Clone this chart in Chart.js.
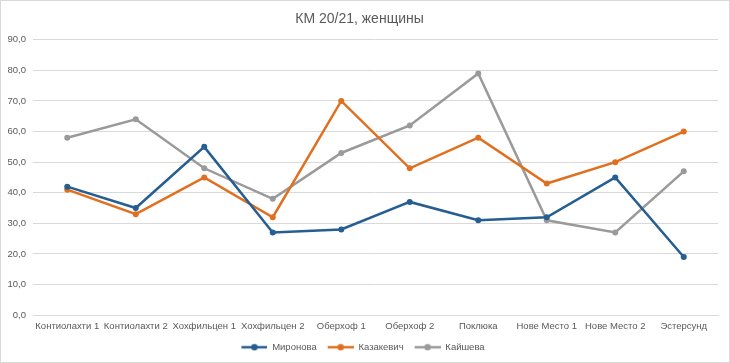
<!DOCTYPE html>
<html>
<head>
<meta charset="utf-8">
<script src="https://cdn.jsdelivr.net/npm/chart.js@4"></script>
<style>
  body { margin: 0; background: #fff; }
  #wrap { width: 730px; height: 363px; box-sizing: border-box; border: 1px solid #d9d9d9; }
</style>
</head>
<body>
<div id="wrap"><canvas id="chart" width="728" height="361"></canvas></div>
<script>
const categories = ["Контиолахти 1", "Контиолахти 2", "Хохфильцен 1", "Хохфильцен 2", "Оберхоф 1",
  "Оберхоф 2", "Поклюка", "Нове Место 1", "Нове Место 2", "Эстерсунд"];
const mironova = [42, 35, 55, 27, 28, 37, 31, 32, 45, 19];
const kazakevich = [41, 33, 45, 32, 70, 48, 58, 43, 50, 60];
const kaysheva = [58, 64, 48, 38, 53, 62, 79, 31, 27, 47];
const seriesNames = ["Миронова", "Казакевич", "Кайшева"];
const colors = ["#255e91", "#e0701f", "#9a9a9a"];

const font = "'Liberation Sans', Arial, sans-serif";

// little line + dot icon for the legend (blank strip on the left = gap between items)
function legendIcon(color) {
  const c = document.createElement("canvas");
  c.width = 33; c.height = 8;
  const g = c.getContext("2d");
  g.strokeStyle = color; g.lineWidth = 2.5;
  g.beginPath(); g.moveTo(7, 4); g.lineTo(33, 4); g.stroke();
  g.fillStyle = color;
  g.beginPath(); g.arc(20, 4, 3.2, 0, Math.PI * 2); g.fill();
  return c;
}

const makeSet = (i, data) => ({
  label: seriesNames[i],
  data: data,
  borderColor: colors[i],
  backgroundColor: colors[i],
  borderWidth: 2.5,
  pointRadius: 3,
  pointBorderWidth: 0,
  tension: 0,
});

new Chart(document.getElementById("chart"), {
  type: "line",
  data: {
    labels: categories,
    datasets: [makeSet(0, mironova), makeSet(1, kazakevich), makeSet(2, kaysheva)],
  },
  options: {
    responsive: false,
    animation: false,
    layout: { padding: { left: 0, right: 11, top: 6, bottom: 0 } },
    plugins: {
      title: {
        display: true,
        text: "КМ 20/21, женщины",
        color: "#595959",
        font: { family: font, size: 14, weight: "normal" },
        padding: { top: 4, bottom: 12 },
      },
      legend: {
        position: "bottom",
        labels: {
          color: "#595959",
          font: { family: font, size: 9.5 },
          usePointStyle: true,
          pointStyleWidth: 33,
          padding: 4,
          generateLabels: (chart) => {
            const items = Chart.defaults.plugins.legend.labels.generateLabels(chart);
            items.forEach((it, i) => { it.pointStyle = legendIcon(colors[i]); });
            return items;
          },
        },
      },
      tooltip: { enabled: false },
    },
    scales: {
      x: {
        offset: true,
        grid: { display: false, drawTicks: false },
        border: { color: "#d9d9d9" },
        ticks: { color: "#595959", font: { family: font, size: 9.5 }, maxRotation: 0, autoSkip: false, padding: 6 },
      },
      y: {
        min: 0,
        max: 90,
        afterFit: (s) => { s.width = 32; },
        grid: { color: "#d9d9d9", drawTicks: false },
        border: { display: false },
        ticks: {
          stepSize: 10,
          padding: 7,
          color: "#595959",
          font: { family: font, size: 9.5 },
          callback: (v) => v.toFixed(1).replace(".", ","),
        },
      },
    },
  },
});
</script>
</body>
</html>
